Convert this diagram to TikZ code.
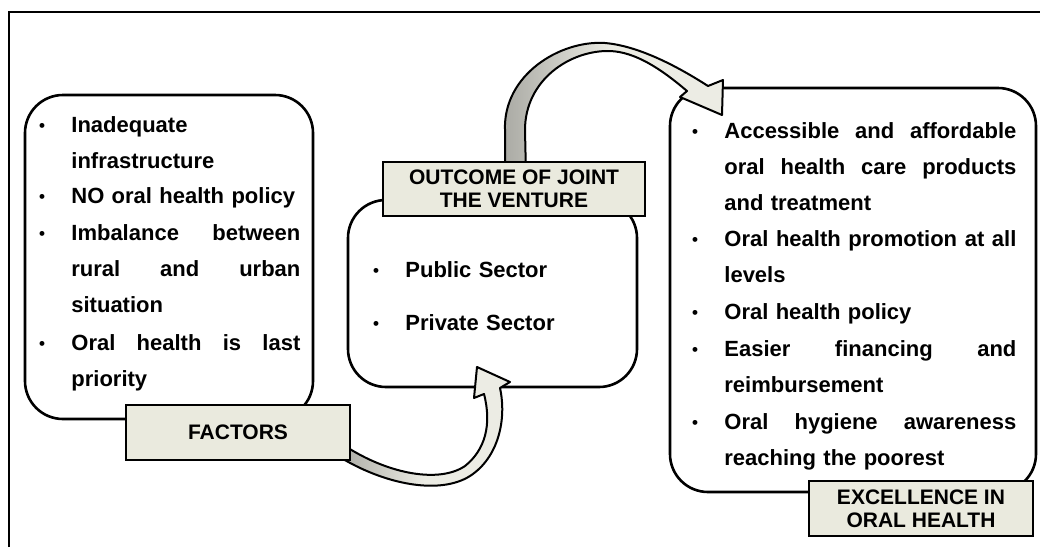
\documentclass[tikz,border=0pt]{standalone}
\usepackage{fontspec}
\setmainfont{Liberation Sans}
\definecolor{labelfill}{RGB}{234,234,222}
\definecolor{arrowfill}{RGB}{236,236,228}
\definecolor{arrowgray}{RGB}{170,170,164}
\tikzset{
    roundbox/.style={draw, line width=1.3pt, rounded corners=19pt},
    labelbox/.style={draw, line width=1pt, fill=labelfill, inner sep=0pt, align=center,
        font=\bfseries\fontsize{10.5}{11.5}\selectfont},
    bigarrow/.style={draw, line width=1pt, line join=round, left color=arrowgray,
        right color=arrowfill, middle color=arrowfill},
    bulletdot/.style={anchor=base, inner sep=0pt, yshift=0.5pt, font=\bfseries\fontsize{8.5}{8.5}\selectfont},
    lefttext/.style={anchor=base west, inner sep=0pt, text width=114.5pt, align=left,
        font=\bfseries\fontsize{11}{18}\selectfont},
    righttext/.style={lefttext, text width=146pt}
}
\begin{document}
\begin{tikzpicture}[x=0.5pt, y=-0.5pt]
    \useasboundingbox (0,0) rectangle (1040,547);
    \draw[line width=0.7pt] (9,547) -- (9,12) -- (1040,12); % frame

    % boxes
    \draw[roundbox] (25,95) rectangle (313,419); % factors
    \draw[roundbox] (348,200) rectangle (637,387); % joint venture
    \draw[roundbox] (670,88) rectangle (1036,492); % excellence

    % factors
    \node[bulletdot] (fa) at (42,132) {•};
    \node[lefttext] (fta) at (71,132) {Inadequate\\infrastructure};
    \node[bulletdot] (fb) at (42,203) {•};
    \node[lefttext] (ftb) at (71,203) {NO oral health policy};
    \node[bulletdot] (fc) at (42,240) {•};
    \node[lefttext] (ftc) at (71,240) {Imbalance\hfill between\\rural\hfill and\hfill urban\\situation};
    \node[bulletdot] (fd) at (42,350) {•};
    \node[lefttext] (ftd) at (71,350) {Oral\hfill health\hfill is\hfill last\\priority};

    % joint venture
    \node[bulletdot] (va) at (376,277) {•};
    \node[lefttext] (vta) at (405,277) {Public Sector};
    \node[bulletdot] (vb) at (376,330) {•};
    \node[lefttext] (vtb) at (405,330) {Private Sector};

    % excellence
    \node[bulletdot] (ea) at (695,138) {•};
    \node[righttext] (eta) at (724,138) {Accessible\hfill and\hfill affordable\\oral\hfill health\hfill care\hfill products\\and treatment};
    \node[bulletdot] (eb) at (695,246) {•};
    \node[righttext] (etb) at (724,246) {Oral\hfill health\hfill promotion\hfill at\hfill all\\levels};
    \node[bulletdot] (ec) at (695,319) {•};
    \node[righttext] (etc) at (724,319) {Oral health policy};
    \node[bulletdot] (ed) at (695,356) {•};
    \node[righttext] (etd) at (724,356) {Easier\hfill financing\hfill and\\reimbursement};
    \node[bulletdot] (ee) at (695,429) {•};
    \node[righttext] (ete) at (724,429) {Oral\hfill hygiene\hfill awareness\\reaching the poorest};

    % curved arrows
    \draw[bigarrow] (338,456) .. controls (385,485) and (440,495) .. (470,476)
        .. controls (498,458) and (507,420) .. (500,388) -- (510,382) -- (477,367)
        -- (474,398) -- (484,394) .. controls (492,425) and (485,450) .. (465,466)
        .. controls (440,483) and (390,475) .. (345,446) -- cycle;
    \draw[bigarrow] (505,175) -- (505,130) .. controls (503,75) and (560,40) .. (605,43)
        .. controls (640,46) and (680,68) .. (708,86) -- (723,80) -- (722,115)
        -- (680,97) -- (687,91) .. controls (660,68) and (635,52) .. (610,51)
        .. controls (570,50) and (525,80) .. (525,130) -- (526,175) -- cycle;

    % labels
    \node[labelbox, minimum width=112pt, minimum height=27.5pt] (factors) at (238,432.5) {FACTORS};
    \node[labelbox, minimum width=131pt, minimum height=27pt] (venture) at (514,189) {OUTCOME OF JOINT\\THE VENTURE};
    \node[labelbox, minimum width=112pt, minimum height=27.5pt] (excellence) at (921,508.5) {EXCELLENCE IN\\ORAL HEALTH};
\end{tikzpicture}
\end{document}
